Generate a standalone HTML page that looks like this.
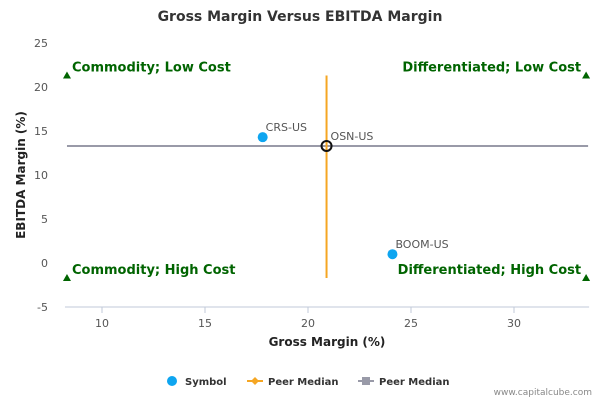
<!DOCTYPE html>
<html><head><meta charset="utf-8"><style>
body{margin:0;background:#fff;font-family:"DejaVu Sans","Liberation Sans",sans-serif;}
svg text{font-family:"DejaVu Sans","Liberation Sans",sans-serif;}
</style></head><body>
<svg id="chart" width="600" height="400" xmlns="http://www.w3.org/2000/svg">
<text x="300" y="21" text-anchor="middle" font-size="14" font-weight="bold" fill="#333">Gross Margin Versus EBITDA Margin</text>
<g id="grid"></g>
<g id="marks"></g>
<text x="327" y="346" text-anchor="middle" font-size="12" font-weight="bold" fill="#222">Gross Margin (%)</text>
<text transform="translate(25,175) rotate(-90)" text-anchor="middle" font-size="12" font-weight="bold" fill="#222">EBITDA Margin (%)</text>
<g>
<g><circle cx="172" cy="381" r="5" fill="#0ea5f0"/><text x="185" y="385" font-size="10" font-weight="bold" fill="#333">Symbol</text></g>
<g><line x1="247" y1="381" x2="263" y2="381" stroke="#f5a623" stroke-width="2"/><path d="M255 377 L259 381 L255 385 L251 381Z" fill="#f5a623"/><text x="268" y="385" font-size="10" font-weight="bold" fill="#333">Peer Median</text></g>
<g><line x1="358" y1="381" x2="374" y2="381" stroke="#999aa8" stroke-width="2"/><rect x="362" y="377" width="8" height="8" fill="#999aa8"/><text x="379" y="385" font-size="10" font-weight="bold" fill="#333">Peer Median</text></g>
</g>
<text x="592" y="395" text-anchor="end" font-size="9" fill="#888">www.capitalcube.com</text>
</svg>
<script>
const xTicks=[10,15,20,25,30];
const yTicks=[-5,0,5,10,15,20,25];
const symbols=["CRS-US","BOOM-US"];
const symGross=[17.8,24.1];
const symEbitda=[14.3,1.0];
const medianGross=20.9;
const medianEbitda=13.3;
const xMin=8.3,xMax=33.5;
const quadLabels=["Commodity; Low Cost","Differentiated; Low Cost","Commodity; High Cost","Differentiated; High Cost"];
const quadY=[21.3,21.3,-1.7,-1.7];
const quadX=[8.3,33.5,8.3,33.5];
const X=v=>102+(v-10)*20.6;
const Y=v=>263-v*8.8;
const NS="http://www.w3.org/2000/svg";
function mk(tag,attrs,parent,txt){const e=document.createElementNS(NS,tag);for(const k in attrs)e.setAttribute(k,attrs[k]);if(txt!==undefined)e.textContent=txt;parent.appendChild(e);return e;}
const grid=document.getElementById('grid'),marks=document.getElementById('marks');
let ax=mk('line',{x1:X(xMin)-2,x2:X(xMax)+3,y1:Y(-5),y2:Y(-5),stroke:'#c0cad8','stroke-width':1},grid);


xTicks.forEach(t=>{
 let l=mk('line',{x1:X(t),x2:X(t),y1:Y(-5),y2:Y(-5)+6,stroke:'#c0cad8'},grid);
 
 
 let tx=mk('text',{x:X(t),y:Y(-5)+20,'text-anchor':'middle','font-size':11,fill:'#555'},grid,t);
 
 
});
yTicks.forEach(t=>{
 let tx=mk('text',{x:48,y:Y(t)+4,'text-anchor':'end','font-size':11,fill:'#555'},grid,t);
 
 
});
let hl=mk('line',{x1:X(xMin),x2:X(xMax)+2,y1:Y(medianEbitda),y2:Y(medianEbitda),stroke:'#999aa8','stroke-width':2},marks);


let vl=mk('line',{x1:X(medianGross),x2:X(medianGross),y1:Y(quadY[0]),y2:Y(quadY[2]),stroke:'#f5a623','stroke-width':2},marks);


quadLabels.forEach((s,i)=>{
 const x=X(quadX[i]),y=Y(quadY[i]);
 let tr=mk('path',{d:`M${x} ${y-4} L${x+4} ${y+3} L${x-4} ${y+3}Z`,fill:'#006400'},marks);
 
 
 const right=i%2==1;
 let tx=mk('text',{x:right?x-5:x+5,y:y-4,'text-anchor':right?'end':'start','font-size':13,'font-weight':'bold',fill:'#006400'},marks,s);
 
 
});
symbols.forEach((s,i)=>{
 let c=mk('circle',{cx:X(symGross[i]),cy:Y(symEbitda[i]),r:5,fill:'#0ea5f0'},marks);
 
 
 let tx=mk('text',{x:X(symGross[i])+3,y:Y(symEbitda[i])-6,'font-size':11,fill:'#555'},marks,s);
 
 
});
let oc=mk('circle',{cx:X(medianGross),cy:Y(medianEbitda),r:5,fill:'none',stroke:'#111','stroke-width':2},marks);


let ot=mk('text',{x:X(medianGross)+4,y:Y(medianEbitda)-6,'font-size':11,fill:'#555'},marks,'OSN-US');


</script>
</body></html>
